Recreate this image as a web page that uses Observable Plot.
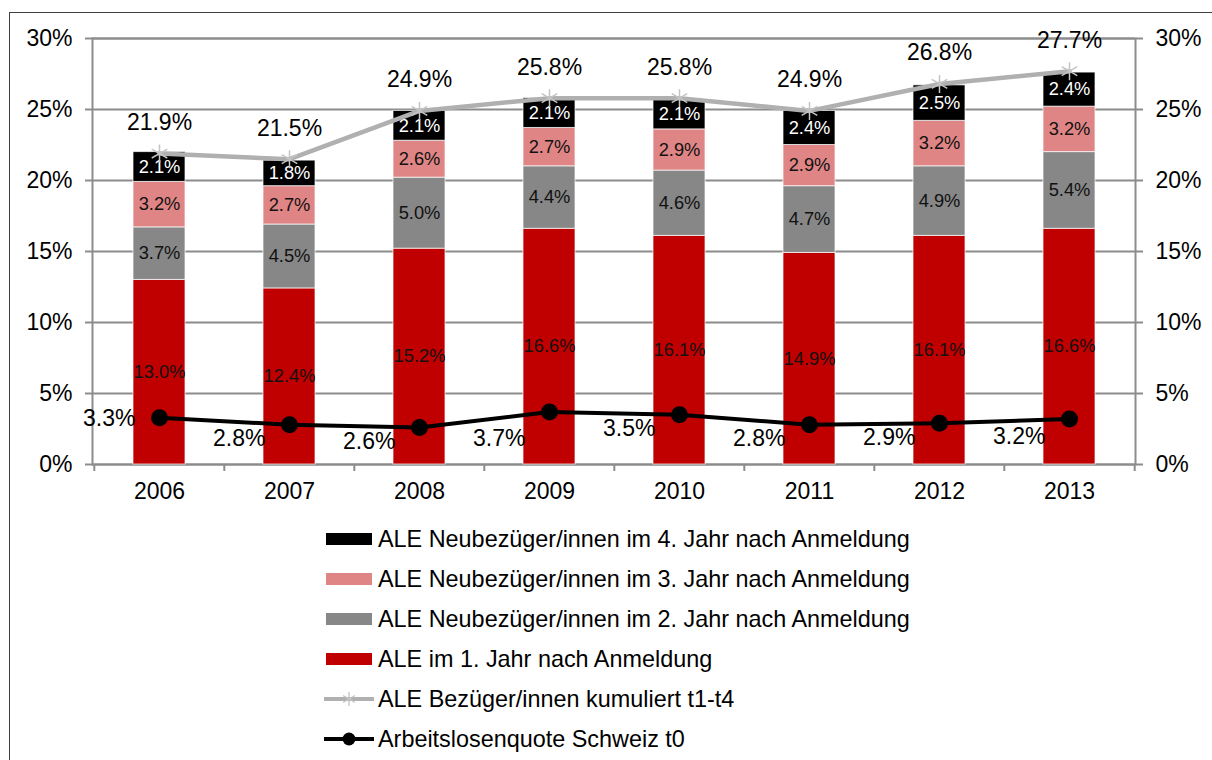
<!DOCTYPE html>
<html><head><meta charset="utf-8">
<script src="https://cdn.jsdelivr.net/npm/d3@7"></script>
<script src="https://cdn.jsdelivr.net/npm/@observablehq/plot@0.6"></script>
<style>
body{margin:0;background:#fff;font-family:"Liberation Sans",Arial,sans-serif;}
#frame{position:absolute;left:9px;top:12px;width:1300px;height:800px;border:1.5px solid #404040;}
#chart{position:absolute;left:0;top:0;}
#legend{position:absolute;left:324px;top:519px;font-size:23.4px;color:#000;}
.row{height:40px;display:flex;align-items:center;white-space:nowrap;}
.row svg{margin-right:4px;flex:none}
</style></head><body>
<div id="frame"></div><div id="chart"></div><div id="legend"></div>
<script>
const years = [2006, 2007, 2008, 2009, 2010, 2011, 2012, 2013];
const year1 = [13.0, 12.4, 15.2, 16.6, 16.1, 14.9, 16.1, 16.6];
const year2 = [3.7, 4.5, 5.0, 4.4, 4.6, 4.7, 4.9, 5.4];
const year3 = [3.2, 2.7, 2.6, 2.7, 2.9, 2.9, 3.2, 3.2];
const year4 = [2.1, 1.8, 2.1, 2.1, 2.1, 2.4, 2.5, 2.4];
const totals = [21.9, 21.5, 24.9, 25.8, 25.8, 24.9, 26.8, 27.7];
const chRate = [3.3, 2.8, 2.6, 3.7, 3.5, 2.8, 2.9, 3.2];
const yTicks = [0, 5, 10, 15, 20, 25, 30];

const barSeries = [
  "ALE im 1. Jahr nach Anmeldung",
  "ALE Neubezüger/innen im 2. Jahr nach Anmeldung",
  "ALE Neubezüger/innen im 3. Jahr nach Anmeldung",
  "ALE Neubezüger/innen im 4. Jahr nach Anmeldung"
];
const totalName = "ALE Bezüger/innen kumuliert t1-t4";
const chName = "Arbeitslosenquote Schweiz t0";
const barColors = ["#c00000", "#878787", "#e08585", "#000000"];

const barValues = [year1, year2, year3, year4];
const stackData = [];
barSeries.forEach((s, si) => years.forEach((y, i) => stackData.push({year: y, series: s, value: barValues[si][i]})));
const lineData = years.map((y, i) => ({year: y, total: totals[i], ch: chRate[i]}));

const W = 1212, H = 515, ml = 92, mr = 77, mt = 38, mb = 51;
const step = (W - ml - mr) / years.length;
const gridColor = "#8c8c8c";
const pct = v => v.toFixed(1) + "%";
const chDy = {2006: 1, 2009: 27, 2013: 18};

const chLabelMarks = years.map(yr => Plot.text(lineData.filter(d => d.year === yr), {
  x: "year", y: "ch", text: d => pct(d.ch), textAnchor: "end", dx: -24, dy: chDy[yr] ?? 14, fontSize: 23, fill: "#000"
}));

const plot = Plot.plot({
  width: W, height: H,
  marginLeft: ml, marginRight: mr, marginTop: mt, marginBottom: mb,
  style: {fontFamily: "'Liberation Sans', Arial, sans-serif", fontSize: "23px", background: "transparent", color: "black"},
  x: {type: "band", domain: years, paddingInner: 0.6, paddingOuter: 0.3, axis: null},
  y: {domain: [0, 30], axis: null},
  color: {domain: barSeries, range: barColors},
  marks: [
    Plot.ruleY(yTicks, {stroke: gridColor, strokeWidth: 2}),
    Plot.frame({stroke: gridColor, strokeWidth: 2}),
    Plot.axisY(yTicks, {anchor: "left", tickSize: 7, tickPadding: 13, tickFormat: d => d + "%", stroke: gridColor, strokeWidth: 2, fill: "black", label: null}),
    Plot.axisY(yTicks, {anchor: "right", tickSize: 7, tickPadding: 13, tickFormat: d => d + "%", stroke: gridColor, strokeWidth: 2, fill: "black", label: null}),
    Plot.axisX(years, {tickSize: 0, tickPadding: 18, tickFormat: d => String(d), fill: "black", label: null}),
    Plot.axisX(years, {tickSize: 7, tickFormat: () => "", dx: -step / 2, stroke: gridColor, strokeWidth: 2, label: null}),
    Plot.axisX([years[years.length - 1]], {tickSize: 7, tickFormat: () => "", dx: step / 2, stroke: gridColor, strokeWidth: 2, label: null}),
    Plot.barY(stackData, {x: "year", y: "value", fill: "series", z: "series", order: barSeries, stroke: "#ffffff", strokeOpacity: 0.7, strokeWidth: 1}),
    Plot.text(stackData, Plot.stackY({
      x: "year", y: "value", z: "series", order: barSeries,
      text: d => pct(d.value), fontSize: 18.3,
      fill: d => d.series === barSeries[3] ? "#ffffff" : "#111111"
    })),
    Plot.line(lineData, {x: "year", y: "total", stroke: "#b0b0b0", strokeWidth: 4.5}),
    Plot.dot(lineData, {x: "year", y: "total", symbol: "asterisk", r: 8.5, stroke: "#c4c4c4", strokeWidth: 1.5}),
    Plot.text(lineData, {x: "year", y: "total", text: d => pct(d.total), dy: -31, fontSize: 23, fill: "#000"}),
    Plot.line(lineData, {x: "year", y: "ch", stroke: "#000", strokeWidth: 4}),
    Plot.dot(lineData, {x: "year", y: "ch", r: 8.5, fill: "#000", stroke: "none"}),
    ...chLabelMarks
  ]
});
document.getElementById("chart").appendChild(plot);

// Legend
const legend = document.getElementById("legend");
const legendItems = [
  {name: barSeries[3], kind: "bar", color: barColors[3]},
  {name: barSeries[2], kind: "bar", color: barColors[2]},
  {name: barSeries[1], kind: "bar", color: barColors[1]},
  {name: barSeries[0], kind: "bar", color: barColors[0]},
  {name: totalName, kind: "star", color: "#b0b0b0"},
  {name: chName, kind: "circle", color: "#000"}
];
legendItems.forEach(it => {
  const row = document.createElement("div");
  row.className = "row";
  let sw;
  if (it.kind === "bar") {
    sw = `<svg width="50" height="14"><rect x="2" y="1" width="46" height="12" fill="${it.color}"/></svg>`;
  } else if (it.kind === "star") {
    sw = `<svg width="50" height="18"><line x1="0" y1="9" x2="50" y2="9" stroke="${it.color}" stroke-width="4"/>
      <g stroke="#c4c4c4" stroke-width="1.3"><line x1="25" y1="2" x2="25" y2="16"/><line x1="19" y1="5.5" x2="31" y2="12.5"/><line x1="19" y1="12.5" x2="31" y2="5.5"/></g></svg>`;
  } else {
    sw = `<svg width="50" height="18"><line x1="0" y1="9" x2="50" y2="9" stroke="#000" stroke-width="4"/><circle cx="25" cy="9" r="6.5" fill="#000"/></svg>`;
  }
  row.innerHTML = sw + `<span>${it.name}</span>`;
  legend.appendChild(row);
});
</script>
</body></html>
